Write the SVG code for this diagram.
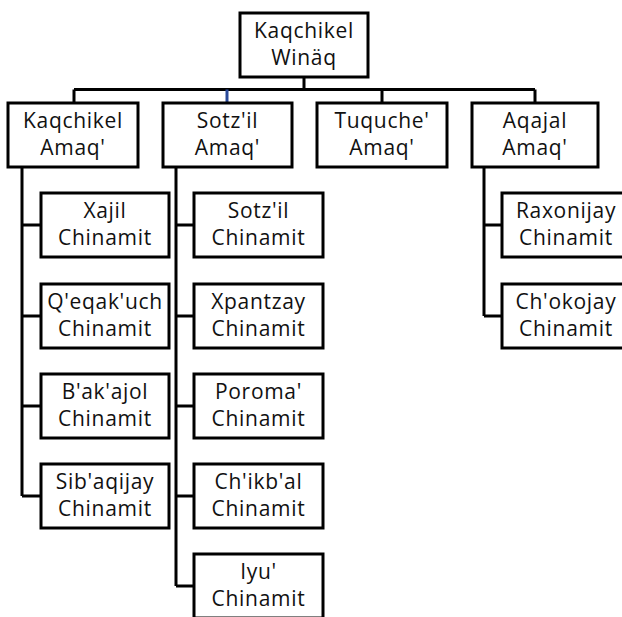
<svg xmlns="http://www.w3.org/2000/svg" width="622" height="617" viewBox="0 0 622 617">
<style>
.box{fill:#fff;stroke:#000;stroke-width:3}
.ln{fill:none;stroke:#000;stroke-width:3}
text{font-family:"Open Sans","Noto Sans",sans-serif;font-size:21px;fill:#111;text-anchor:middle;letter-spacing:0.7px}
</style>
<rect width="622" height="617" fill="#fff"/>
<g id="connectors">
<path class="ln" d="M304 77V89.5M74 89.5H535M74 89.5V103M382 89.5V103M535 89.5V103"/>
<path d="M227 89.5V103" stroke="#2a4a9a" stroke-width="3"/>
<path class="ln" d="M22 167V496M22 225H41M22 316H41M22 406H41M22 496H41"/>
<path class="ln" d="M176 167V586M176 225H194M176 316H194M176 406H194M176 496H194M176 586H194"/>
<path class="ln" d="M484 167V316M484 225H502M484 316H502"/>
</g>
<g id="root"><rect class="box" x="240" y="13" width="128" height="64"/><text x="304" y="38">Kaqchikel</text><text x="304" y="65">Winäq</text></g>
<g id="kaqchikel-amaq"><rect class="box" x="8" y="103" width="130" height="64"/><text x="73" y="128">Kaqchikel</text><text x="73" y="155">Amaq'</text></g>
<g id="sotzil-amaq"><rect class="box" x="163" y="103" width="129" height="64"/><text x="227.5" y="128">Sotz'il</text><text x="227.5" y="155">Amaq'</text></g>
<g id="tuquche-amaq"><rect class="box" x="317" y="103" width="130" height="64"/><text x="382" y="128">Tuquche'</text><text x="382" y="155">Amaq'</text></g>
<g id="aqajal-amaq"><rect class="box" x="472" y="103" width="126" height="64"/><text x="535" y="128">Aqajal</text><text x="535" y="155">Amaq'</text></g>
<g id="xajil"><rect class="box" x="41" y="193" width="128" height="64"/><text x="105" y="218">Xajil</text><text x="105" y="245">Chinamit</text></g>
<g id="qeqakuch"><rect class="box" x="41" y="284" width="128" height="64"/><text x="105" y="309">Q'eqak'uch</text><text x="105" y="336">Chinamit</text></g>
<g id="bakajol"><rect class="box" x="41" y="374" width="128" height="64"/><text x="105" y="399">B'ak'ajol</text><text x="105" y="426">Chinamit</text></g>
<g id="sibaqijay"><rect class="box" x="41" y="464" width="128" height="64"/><text x="105" y="489">Sib'aqijay</text><text x="105" y="516">Chinamit</text></g>
<g id="sotzil-ch"><rect class="box" x="194" y="193" width="129" height="64"/><text x="258.5" y="218">Sotz'il</text><text x="258.5" y="245">Chinamit</text></g>
<g id="xpantzay"><rect class="box" x="194" y="284" width="129" height="64"/><text x="258.5" y="309">Xpantzay</text><text x="258.5" y="336">Chinamit</text></g>
<g id="poroma"><rect class="box" x="194" y="374" width="129" height="64"/><text x="258.5" y="399">Poroma'</text><text x="258.5" y="426">Chinamit</text></g>
<g id="chikbal"><rect class="box" x="194" y="464" width="129" height="64"/><text x="258.5" y="489">Ch'ikb'al</text><text x="258.5" y="516">Chinamit</text></g>
<g id="iyu"><rect class="box" x="194" y="554" width="129" height="64"/><text x="258.5" y="579">Iyu'</text><text x="258.5" y="606">Chinamit</text></g>
<g id="raxonijay"><rect class="box" x="502" y="193" width="129" height="64"/><text x="566" y="218">Raxonijay</text><text x="566" y="245">Chinamit</text></g>
<g id="chokojay"><rect class="box" x="502" y="284" width="129" height="64"/><text x="566" y="309">Ch'okojay</text><text x="566" y="336">Chinamit</text></g>
</svg>
